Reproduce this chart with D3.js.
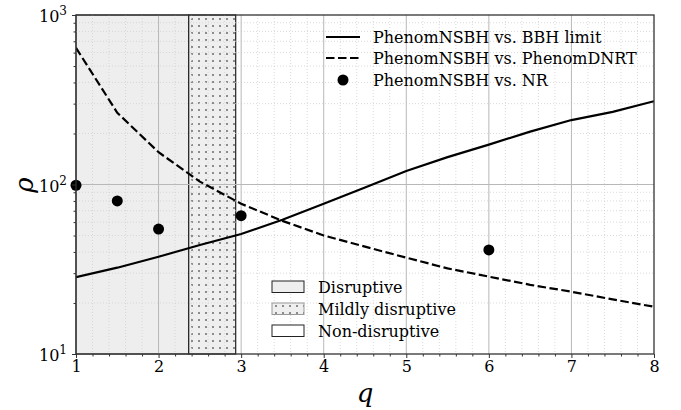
<!DOCTYPE html>
<html><head><meta charset="utf-8">
<script src="https://cdn.jsdelivr.net/npm/d3@7"></script>
<style>body{margin:0;background:#fff}svg{display:block}svg text{font-family:'DejaVu Serif','Liberation Serif',serif !important}</style>
</head><body><svg id="c" width="681" height="410"></svg>
<script>
const qBBH = [1,1.5,2,2.5,3,3.5,4,4.5,5,5.5,6,6.5,7,7.5,8];
const rhoBBH = [28.4,32.3,37.5,44,51,62,77,96,120,145,172,205,240,268,310];
const qDNRT = [1,1.5,2,2.5,3,3.5,4,4.5,5,5.5,6,6.5,7,7.5,8];
const rhoDNRT = [640,265,155,104,77,61,50,43,37,32,28.6,25.6,23.3,21,19];
const qNR = [1,1.5,2,3,6];
const rhoNR = [99,80,54.6,65.5,41.1];
const regions = [{name:"Disruptive",x0:1,x1:2.365},{name:"Mildly disruptive",x0:2.365,x1:2.934},{name:"Non-disruptive",x0:2.934,x1:8}];
const xTicks = [1,2,3,4,5,6,7,8];
const yTicksExp = [1,2,3];
const lineLabels = ["PhenomNSBH vs. BBH limit","PhenomNSBH vs. PhenomDNRT","PhenomNSBH vs. NR"];

const FF = "'DejaVu Serif','Liberation Serif',serif";
const svg = d3.select("#c").attr("font-family",FF);
const L=76,R=654,T=15,B=354;
const x = d3.scaleLinear().domain([1,8]).range([L,R]);
const y = d3.scaleLog().domain([10,1000]).range([B,T]);

const defs = svg.append("defs");
const pat = defs.append("pattern").attr("id","dots").attr("patternUnits","userSpaceOnUse").attr("width",7).attr("height",7).attr("x",L).attr("y",T);
pat.append("rect").attr("width",7).attr("height",7).attr("fill","#efefef");
pat.append("rect").attr("x",3).attr("y",3).attr("width",2).attr("height",2).attr("fill","#8c8c8c");
defs.append("clipPath").attr("id","clip").append("rect").attr("x",L).attr("y",T).attr("width",R-L).attr("height",B-T);

const g = svg.append("g");
g.append("rect").attr("x",x(regions[0].x0)).attr("y",T).attr("width",x(regions[0].x1)-x(regions[0].x0)).attr("height",B-T).attr("fill","#eeeeee").attr("stroke","#222").attr("stroke-width",1);
g.append("rect").attr("x",x(regions[1].x0)).attr("y",T).attr("width",x(regions[1].x1)-x(regions[1].x0)).attr("height",B-T).attr("fill","url(#dots)").attr("stroke","#222").attr("stroke-width",1.2);

const xMinor = d3.range(1,8.001,0.2).filter(v=>Math.abs(v-Math.round(v))>1e-6);
const yMinor = [];
[10,100].forEach(d=>{for(let k=2;k<=9;k++) yMinor.push(d*k);});
const grid = g.append("g").attr("clip-path","url(#clip)");
grid.selectAll(".xm").data(xMinor).enter().append("line").attr("x1",d=>x(d)).attr("x2",d=>x(d)).attr("y1",T).attr("y2",B).attr("stroke","#d0d0d0").attr("stroke-width",0.8).attr("stroke-dasharray","1,2");
grid.selectAll(".ym").data(yMinor).enter().append("line").attr("y1",d=>y(d)).attr("y2",d=>y(d)).attr("x1",L).attr("x2",R).attr("stroke","#d0d0d0").attr("stroke-width",0.8).attr("stroke-dasharray","1,2");
grid.selectAll(".xM").data(xTicks.slice(1,-1)).enter().append("line").attr("x1",d=>x(d)).attr("x2",d=>x(d)).attr("y1",T).attr("y2",B).attr("stroke","#b8b8b8").attr("stroke-width",1);
grid.append("line").attr("y1",y(100)).attr("y2",y(100)).attr("x1",L).attr("x2",R).attr("stroke","#b8b8b8").attr("stroke-width",1);

const line = d3.line().x(d=>x(d[0])).y(d=>y(d[1]));
g.append("path").attr("clip-path","url(#clip)").datum(qBBH.map((q,i)=>[q,rhoBBH[i]])).attr("d",line).attr("fill","none").attr("stroke","#000").attr("stroke-width",2.2);
g.append("path").attr("clip-path","url(#clip)").datum(qDNRT.map((q,i)=>[q,rhoDNRT[i]])).attr("d",line).attr("fill","none").attr("stroke","#000").attr("stroke-width",2.2).attr("stroke-dasharray","8.5,3.5");
g.selectAll(".nr").data(qNR.map((q,i)=>[q,rhoNR[i]])).enter().append("circle").attr("cx",d=>x(d[0])).attr("cy",d=>y(d[1])).attr("r",5.5).attr("fill","#000");

const xAxis = d3.axisBottom(x).tickValues(xTicks).tickFormat(d3.format("d")).tickSize(4).tickPadding(3);
const xa = svg.append("g").attr("transform",`translate(0,${B})`).call(xAxis);
xa.attr("font-family",FF);
xa.select(".domain").remove();
xa.selectAll("text").attr("font-size",16).attr("fill","#000");
xa.selectAll("line").attr("stroke","#333");
const xm = svg.append("g").attr("transform",`translate(0,${B})`).call(d3.axisBottom(x).tickValues(xMinor).tickFormat("").tickSize(2.5));
xm.select(".domain").remove(); xm.selectAll("line").attr("stroke","#333");

const ya = svg.append("g").attr("transform",`translate(${L},0)`).call(d3.axisLeft(y).tickValues(yTicksExp.map(e=>Math.pow(10,e))).tickFormat("").tickSize(4));
ya.select(".domain").remove(); ya.selectAll("line").attr("stroke","#333");
const ym = svg.append("g").attr("transform",`translate(${L},0)`).call(d3.axisLeft(y).tickValues(yMinor).tickFormat("").tickSize(2.5));
ym.select(".domain").remove(); ym.selectAll("line").attr("stroke","#333");
yTicksExp.forEach(e=>{
  const t = svg.append("text").attr("x",L-9).attr("y",y(Math.pow(10,e))+7).attr("text-anchor","end").attr("font-size",16).attr("fill","#000");
  t.append("tspan").text("10");
  t.append("tspan").attr("dy",-7).attr("font-size",12).text(String(e));
});

svg.append("rect").attr("x",L).attr("y",T).attr("width",R-L).attr("height",B-T).attr("fill","none").attr("stroke","#333").attr("stroke-width",1.3);

svg.append("text").attr("x",365).attr("y",402).attr("text-anchor","middle").attr("font-size",26).attr("font-style","italic").text("q");
svg.append("text").attr("transform",`translate(33,185) rotate(-90)`).attr("text-anchor","middle").attr("font-size",26).attr("font-style","italic").text("ρ");

const l1 = svg.append("g");
const ly = [37,58,80];
l1.append("line").attr("x1",326).attr("x2",360).attr("y1",ly[0]).attr("y2",ly[0]).attr("stroke","#000").attr("stroke-width",2.2);
l1.append("line").attr("x1",326).attr("x2",360).attr("y1",ly[1]).attr("y2",ly[1]).attr("stroke","#000").attr("stroke-width",2.2).attr("stroke-dasharray","8.5,3.5");
l1.append("circle").attr("cx",343).attr("cy",ly[2]).attr("r",5.5).attr("fill","#000");
lineLabels.forEach((s,i)=>l1.append("text").attr("x",373).attr("y",ly[i]+5.5).attr("font-size",16).attr("fill","#000").text(s));

const l2 = svg.append("g");
const ry = [287,309,331];
l2.append("rect").attr("x",272).attr("y",ry[0]-6).attr("width",32).attr("height",11.5).attr("fill","#eeeeee").attr("stroke","#222").attr("stroke-width",1);
l2.append("rect").attr("x",272).attr("y",ry[1]-6).attr("width",32).attr("height",11.5).attr("fill","url(#dots)").attr("stroke","#999").attr("stroke-width",1);
l2.append("rect").attr("x",272).attr("y",ry[2]-6).attr("width",32).attr("height",11.5).attr("fill","#fff").attr("stroke","#222").attr("stroke-width",1);
regions.forEach((r,i)=>l2.append("text").attr("x",318).attr("y",ry[i]+5.5).attr("font-size",16).attr("fill","#000").text(r.name));
</script></body></html>
